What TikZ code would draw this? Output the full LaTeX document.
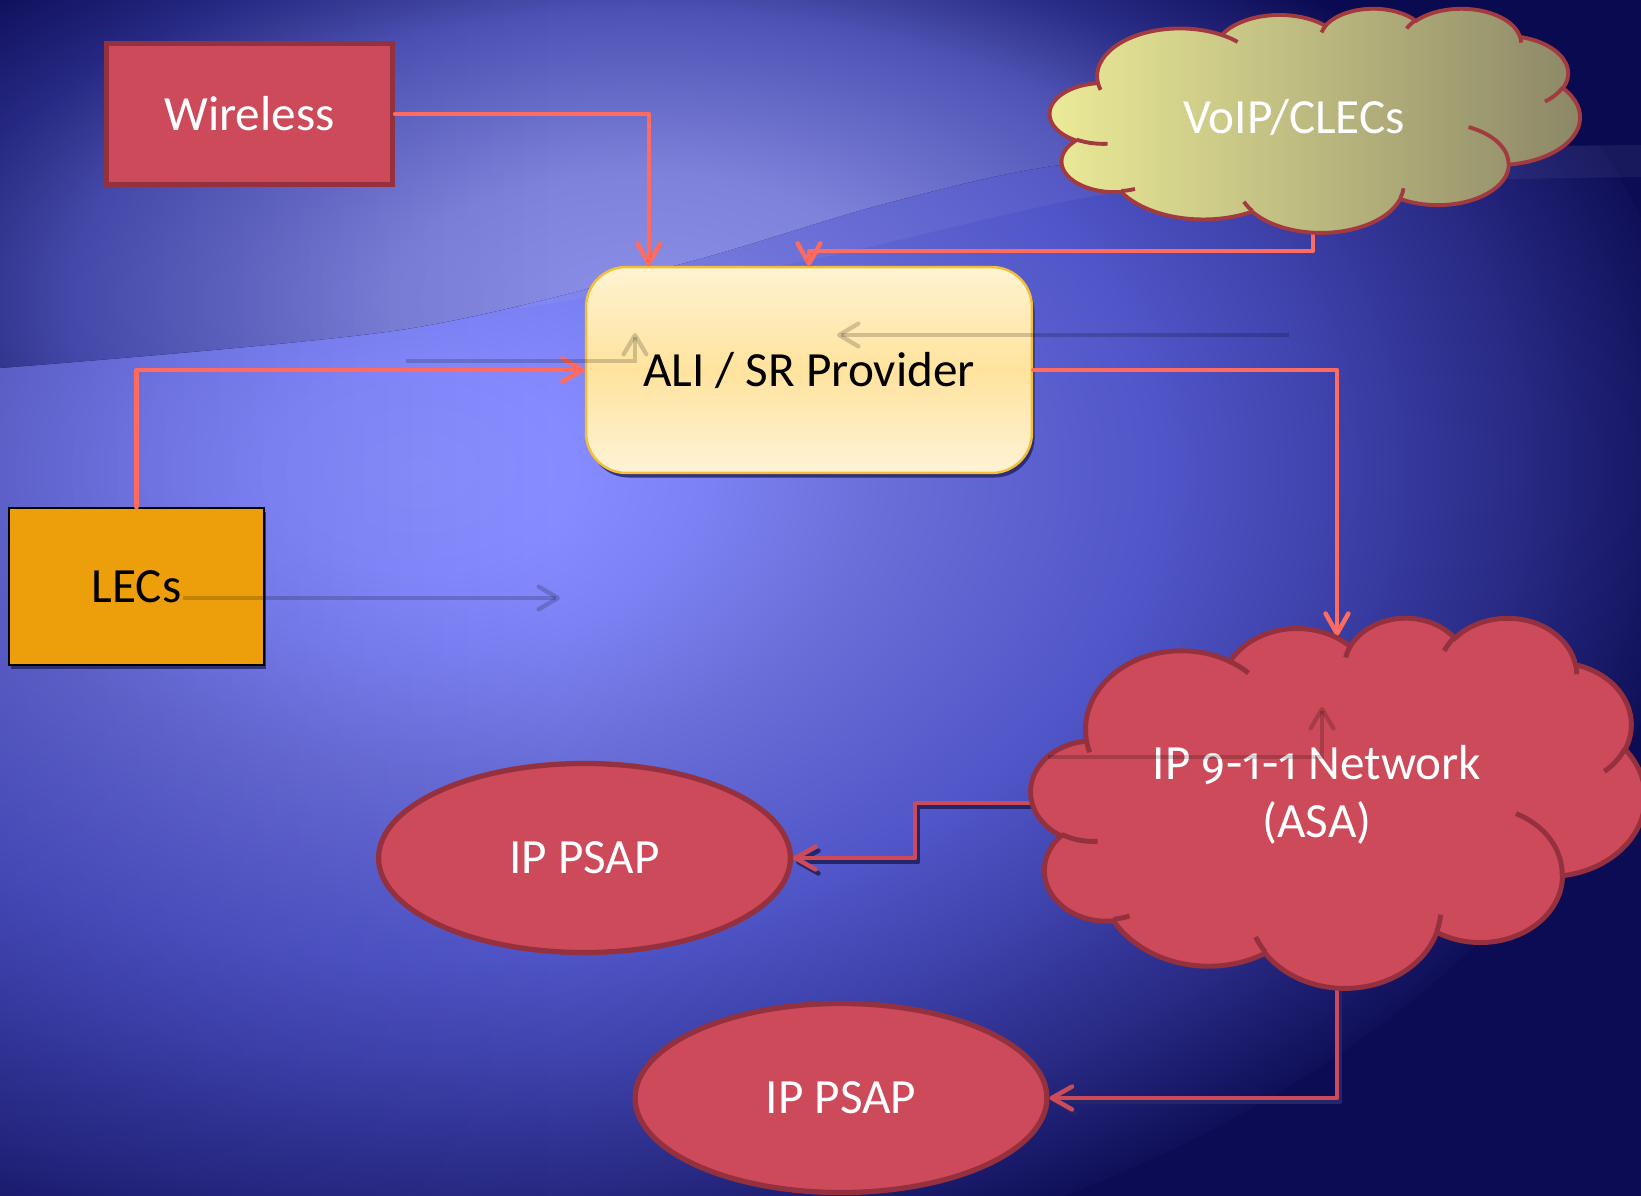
\documentclass[tikz,border=0pt]{standalone}
\usepackage{fontspec}
\setmainfont{Carlito}
\newfontfamily\osf{Fira Sans}[Numbers=OldStyle, Scale=0.92]
\usetikzlibrary{arrows.meta,calc,shadows,shapes.geometric,fadings}

\definecolor{bgA}{HTML}{8A90FF}
\definecolor{bgB}{HTML}{868CFF}
\definecolor{bgC}{HTML}{7C82F4}
\definecolor{bgD}{HTML}{6A6ED8}
\definecolor{bgE}{HTML}{5055C8}
\definecolor{bgF}{HTML}{4044AE}
\definecolor{bgG}{HTML}{282A84}
\definecolor{bgH}{HTML}{0F0F58}
\definecolor{bgI}{HTML}{0C0C55}
\definecolor{upA}{HTML}{8A8EE6}
\definecolor{upB}{HTML}{7E82DA}
\definecolor{upC}{HTML}{4D52B5}
\definecolor{upD}{HTML}{3C409A}
\definecolor{upE}{HTML}{2A2D88}
\definecolor{upF}{HTML}{0C0C54}
\definecolor{upG}{HTML}{0A0A50}
\definecolor{cred}{HTML}{CC4A5A}
\definecolor{credb}{HTML}{95303F}
\definecolor{salmon}{HTML}{FF6B5E}
\definecolor{aliA}{HTML}{FFF3D2}
\definecolor{aliB}{HTML}{FFE39E}
\definecolor{aliC}{HTML}{FFF3D6}
\definecolor{alib}{HTML}{F3BF3A}
\definecolor{lecsc}{HTML}{ED9E0B}
\definecolor{shad}{HTML}{25266A}
\definecolor{voipA}{HTML}{ECEC98}
\definecolor{voipB}{HTML}{8A8566}
\definecolor{voipb}{HTML}{A33A40}
\definecolor{darkedge}{HTML}{14156A}

\pgfdeclareradialshading{bgbelow}{\pgfpoint{0bp}{0bp}}{color(0bp)=(bgA); color(3bp)=(bgB); color(5.5bp)=(bgC); color(9bp)=(bgD); color(14.5bp)=(bgE); color(17.5bp)=(bgF); color(21.5bp)=(bgG); color(25bp)=(bgH); color(50bp)=(bgI)}
\pgfdeclareradialshading{bgabove}{\pgfpoint{0bp}{0bp}}{color(0bp)=(upA); color(7bp)=(upB); color(16bp)=(upC); color(18bp)=(upD); color(20bp)=(upE); color(25bp)=(upF); color(50bp)=(upG)}
\tikzfading[name=fadeleft, left color=transparent!0, right color=transparent!100]

% cloud arcs (visual angles converted to parametric angles)
\newcommand\mkcloudarc[5]{%
  \pgfmathsetmacro\clS{atan2((#2)*sin(#4),(#3)*cos(#4))}%
  \pgfmathsetmacro\clE{atan2((#2)*sin((#4)+(#5)),(#3)*cos((#4)+(#5)))}%
  \pgfmathsetmacro\clD{\clE-\clS}%
  \pgfmathsetmacro\clD{\clD+360*((#5)>0)*(\clD<0)-360*((#5)<0)*(\clD>0)}%
  \expandafter\xdef\csname cloudarc#1\endcsname{arc[x radius=#2,y radius=#3,start angle=\clS,delta angle=\clD]}%
}
\mkcloudarc{A}{67.53}{91.90}{-190.48748}{123.78053}
\mkcloudarc{B}{53.33}{72.67}{-144.10238}{89.94523}
\mkcloudarc{C}{43.65}{59.45}{-145.80792}{99.72302}
\mkcloudarc{D}{48.57}{65.95}{-130.98607}{117.24173}
\mkcloudarc{E}{53.33}{72.73}{-78.70888}{109.02692}
\mkcloudarc{F}{67.75}{92.20}{-46.26725}{130.269}
\mkcloudarc{G}{57.85}{78.67}{0.62502}{114.03333}
\mkcloudarc{H}{67.52}{92.15}{22.4516}{115.17255}
\mkcloudarc{I}{77.20}{105.43}{66.24263}{75.71102}
\mkcloudarc{J}{43.60}{59.18}{-274.94208}{146.73557}
\mkcloudarc{K}{43.45}{59.45}{-246.8285}{152.51885}
\mkcloudarc{a}{43.45}{59.45}{86.742}{26.4295}
\mkcloudarc{b}{43.60}{59.18}{73.6105}{11.4475}
\mkcloudarc{c}{67.52}{92.15}{137.6242}{14.0811}
\mkcloudarc{d}{67.52}{92.15}{6.4533}{15.9984}
\mkcloudarc{e}{57.85}{78.67}{-70.2924}{70.9174}
\mkcloudarc{f}{53.33}{72.73}{30.3180}{27.7515}
\mkcloudarc{g}{48.57}{65.95}{-13.7443}{14.8589}
\mkcloudarc{h}{48.57}{65.95}{-149.1815}{18.1954}
\mkcloudarc{i}{43.65}{59.45}{-163.4943}{17.6864}
\mkcloudarc{j}{67.53}{91.90}{-66.7070}{12.3194}
\mkcloudarc{k}{67.53}{91.90}{157.6544}{11.8582}
\xdef\cloudouter{(39,143.7) \cloudarcA \cloudarcB \cloudarcC \cloudarcD \cloudarcE \cloudarcF \cloudarcG \cloudarcH \cloudarcI \cloudarcJ \cloudarcK -- cycle}
\xdef\cloudnotch{(46.93,261.77) \cloudarca (69.28,348.99) \cloudarcb (164.78,390.90) \cloudarcc (288.27,347.51) \cloudarcd (341.29,229.54) \cloudarce (417.98,153.54) \cloudarcf (383.24,54.26) \cloudarcg (290.78,39.52) \cloudarch (221.41,47.20) \cloudarci (140.00,51.92) \cloudarcj (41.27,157.89) \cloudarck}

\begin{document}
\begin{tikzpicture}[x=0.02cm,y=-0.02cm,
  lbl/.style={font=\fontsize{28}{33}\selectfont, inner sep=0pt},
  conn/.style={draw=salmon, line width=2.55pt, line cap=round, line join=round, -{Straight Barb[length=11.5pt,width=13pt,round]}},
  connr/.style={conn, draw=cred},
  connsh/.style={conn, draw=shad, transform canvas={xshift=1.7pt,yshift=-2.3pt}},
  ghost/.style={draw=black, opacity=0.18, line width=2.4pt, -{Straight Barb[length=11pt,width=13pt,round]}},
  wbox/.style={lbl, rectangle, fill=cred, draw=credb, line width=3pt, text=white, minimum width=162.75pt, minimum height=80.24pt},
  alibox/.style={lbl, rectangle, rounded corners=22.8pt, draw=alib, line width=1.4pt, top color=aliA, bottom color=aliC, middle color=aliB, text=black, minimum width=253.8pt, minimum height=117.2pt, drop shadow={shadow xshift=1.5pt, shadow yshift=-2.6pt, fill=shad, opacity=0.85}},
  lecsbox/.style={lbl, rectangle, fill=lecsc, draw=black, line width=1.2pt, text=black, minimum width=145.1pt, minimum height=89.3pt, drop shadow={shadow xshift=1.2pt, shadow yshift=-2.4pt, fill=shad, opacity=0.85}},
  psap/.style={lbl, ellipse, fill=cred, draw=credb, line width=3pt, text=white, minimum width=234.4pt, minimum height=107.6pt},
  netfill/.style={fill=cred, draw=credb, line width=2.8pt},
  netline/.style={draw=credb, line width=2.8pt},
  voipfill/.style={left color=voipA, right color=voipB, draw=voipb, line width=2.2pt},
  voipline/.style={draw=voipb, line width=2.2pt},
  cloudtxt/.style={lbl, text=white, align=center}
]
\useasboundingbox (0,0) rectangle (1641,1196);

% background
\begin{scope}
  \clip (0,0) rectangle (1641,1196);
  \fill[bgI] (0,0) rectangle (1641,1196);
  \shade[shading=bgbelow] (420,470) ellipse [x radius=1280, y radius=840];
  \begin{scope}
    \clip (0,0) -- (1641,0) -- plot[smooth] coordinates {(1641,145) (1300,150) (1060,165) (880,205) (677,265) (400,330) (0,368)} -- cycle;
    \fill[upG] (0,0) rectangle (1641,400);
    \shade[shading=bgabove] (640,300) ellipse [x radius=900, y radius=450];
  \end{scope}
  % light band along the swoosh
  \fill[white, opacity=0.05] plot[smooth] coordinates {(520,305) (677,265) (880,205) (1060,165) (1300,150) (1641,145)} -- plot[smooth] coordinates {(1641,177) (1300,183) (1100,195) (800,262) (520,308)} -- cycle;
  % darker left edge
  \fill[darkedge, opacity=0.35, path fading=fadeleft] (-450,-10) rectangle (550,1210);
\end{scope}

% nodes
\node[wbox] (wireless) at (249.5,114) {Wireless};
\node[alibox] (ali) at (809,370) {ALI / SR Provider};
\node[lecsbox] (lecs) at (136.5,586.5) {LECs};
\node[psap] (psap1) at (584.5,858) {IP PSAP};
\node[psap] (psap2) at (841,1098) {IP PSAP};

% anchor points on the clouds
\coordinate (voip-s) at (1313,233);
\coordinate (net-n) at (1337,636);
\coordinate (net-w) at (1033,803);
\coordinate (net-s) at (1337,984);

% connectors
\draw[conn] (wireless.east) -| ($(ali.north west)+(64,0)$);
\draw[conn] (voip-s) -- ++(0,18) -| (ali.north);
\draw[conn] (lecs.north) |- (ali.west);
\draw[conn] (ali.east) -| (net-n);
\draw[connsh] (net-w) -- ++(-118,0) |- (psap1.east);
\draw[connr] (net-w) -- ++(-118,0) |- (psap1.east);
\draw[connsh] (net-s) |- (psap2.east);
\draw[connr] (net-s) |- (psap2.east);

% clouds
\begin{scope}[shift={(1050,8)}, x=0.024537cm, y=-0.010370cm]
  \path[voipfill] \cloudouter;
  \path[voipline] \cloudnotch;
\end{scope}
\begin{scope}[shift={(1031,617)}, x=0.028426cm, y=-0.017130cm]
  \path[netfill] \cloudouter;
  \path[netline] \cloudnotch;
\end{scope}
\node[cloudtxt] (voip) at (1294,117) {VoIP/CLECs};
\node[cloudtxt] (net) at (1317,795) {IP {\osf 9-1-1} Network\\(ASA)};

% faint ghost connectors
\coordinate (g1a) at (406,361); \coordinate (g1b) at (635,333);
\coordinate (g2a) at (1289,335); \coordinate (g2b) at (837,335);
\coordinate (g3a) at (183,598); \coordinate (g3b) at (560,598);
\coordinate (g4a) at (1048,757); \coordinate (g4b) at (1322,707);
\draw[ghost] (g1a) -| (g1b);
\draw[ghost] (g2a) -- (g2b);
\draw[ghost] (g3a) -- (g3b);
\draw[ghost] (g4a) -| (g4b);
\end{tikzpicture}
\end{document}
